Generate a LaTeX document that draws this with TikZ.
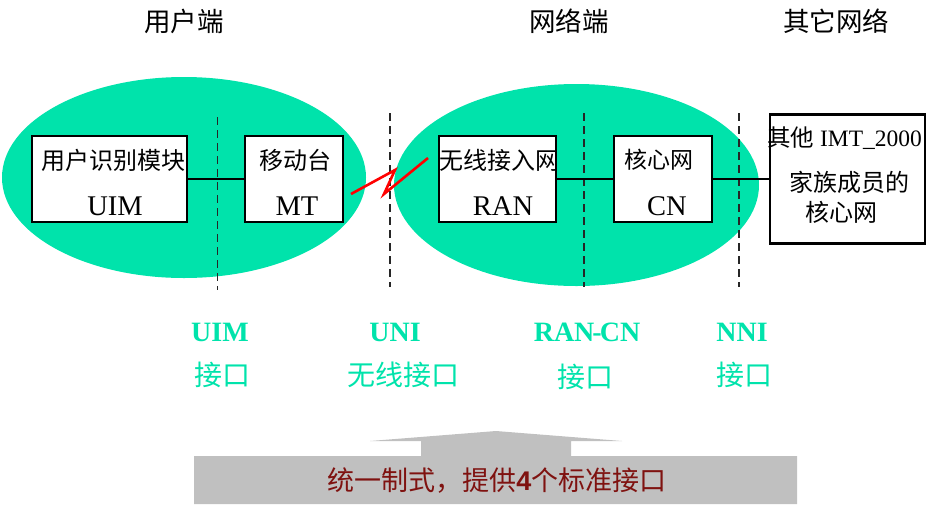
\documentclass[tikz,border=0pt]{standalone}
\usepackage{fontspec}
\setmainfont{Liberation Serif}
\newfontfamily\zhfont{Noto Sans CJK SC}
\newfontfamily\numfont{Liberation Sans}
\usetikzlibrary{positioning, shapes.geometric}
\definecolor{mobgreen}{HTML}{00E3AB}
\definecolor{barred}{HTML}{7F1210}
\definecolor{bargray}{HTML}{C0C0C0}
\begin{document}
\begin{tikzpicture}[x=1pt, y=-1pt,
      blob/.style={ellipse, fill=mobgreen, inner sep=0pt},
      b/.style={draw=black, fill=white, line width=2.6pt, outer sep=0pt, inner sep=0pt, minimum height=86pt},
      link/.style={line width=2.4pt},
      cut/.style={line width=1.5pt, draw=black!85, dash pattern=on 8pt off 5pt},
      radio/.style={line width=2.6pt, draw=red},
      zh/.style={font=\zhfont\fontsize{24}{26}\selectfont, inner sep=0pt},
      en/.style={font=\fontsize{28.5}{30}\selectfont, inner sep=0pt},
      head/.style={font=\zhfont\fontsize{26.5}{28}\selectfont, inner sep=0pt},
      ifen/.style={font=\bfseries\fontsize{28}{30}\selectfont, text=mobgreen, inner sep=0pt},
      ifzh/.style={font=\zhfont\fontsize{28}{30}\selectfont, text=mobgreen, inner sep=0pt}]
    \useasboundingbox (0,0) rectangle (942,507);
    % zones
    \node[blob, minimum width=364pt, minimum height=201pt] (user) at (184,177.5) {};
    \node[blob, minimum width=365pt, minimum height=202pt] (net) at (576.5,185) {};
    % interface cuts
    \foreach \n/\x/\ya/\yb in {a/217.5/117/290, b/390/113/287, c/584/113/287, d/739/113/287} {
      \coordinate (\n top) at (\x,\ya);
      \coordinate (\n bot) at (\x,\yb);
      \draw[cut] (\n top)--(\n bot);
    }
    % boxes
    \node[b, minimum width=155pt] (uim) at (109.5,179) {};
    \node[b, minimum width=98pt, right=58pt of uim] (mt) {};
    \node[b, minimum width=117pt] (ran) at (497.5,179) {};
    \node[b, minimum width=98pt, right=58pt of ran] (cn) {};
    \node[b, minimum width=155pt, minimum height=129pt] (imt) at (847.5,179) {};
    \draw[link] (uim)--(mt); \draw[link] (ran)--(cn); \draw[link] (cn)--(imt);
    % radio link
    \coordinate (ra) at (351,194); \coordinate (rb) at (395,170);
    \coordinate (rc) at (384,194); \coordinate (rd) at (428,158);
    \draw[radio] (ra)--(rb)--(rc)--(rd);
    % box texts
    \node[zh] (uimzh) at (113,160) {用户识别模块};
    \node[en] (uimen) at (115,206) {UIM};
    \node[zh] (mtzh) at (295,160) {移动台};
    \node[en] (mten) at (297,206) {MT};
    \node[zh] (ranzh) at (499,160) {无线接入网};
    \node[en] (ranen) at (503,206) {RAN};
    \node[zh, font=\zhfont\fontsize{23}{26}\selectfont] (cnzh) at (659,160) {核心网};
    \node[en] (cnen) at (667,206) {CN};
    \node[en, font=\fontsize{23.5}{26}\selectfont] (imta) at (844.5,138) {{\zhfont 其他} IMT\_2000};
    \node[zh] (imtb) at (849,182) {家族成员的};
    \node[zh] (imtc) at (841,212) {核心网};
    % headings
    \node[head] (huser) at (184,21) {用户端};
    \node[head] (hnet) at (569,21) {网络端};
    \node[head] (hother) at (836,21) {其它网络};
    % interface names
    \node[ifen] (iuim) at (220,332) {UIM};
    \node[ifzh] (iuimzh) at (222,375) {接口};
    \node[ifen] (iuni) at (395,332) {UNI};
    \node[ifzh] (iunizh) at (403,375) {无线接口};
    \node[ifen] (iran) at (587,332) {RAN\kern-2pt-\kern-2pt CN};
    \node[ifzh] (iranzh) at (585,377) {接口};
    \node[ifen] (innni) at (742,332) {NNI};
    \node[ifzh] (innizh) at (744,375) {接口};
    % bottom bar
    \fill[bargray] (194,456) -- (421,456) -- (421,441) -- (370,441) -- (496,431) -- (622,441)
      -- (571,441) -- (571,456) -- (797,456) -- (797,504) -- (194,504) -- cycle;
    \node[inner sep=0pt, text=barred, font=\zhfont\fontsize{27}{30}\selectfont] (bar) at (497,481)
      {统一制式，提供{\numfont\bfseries 4}个标准接口};
  \end{tikzpicture}
\end{document}
